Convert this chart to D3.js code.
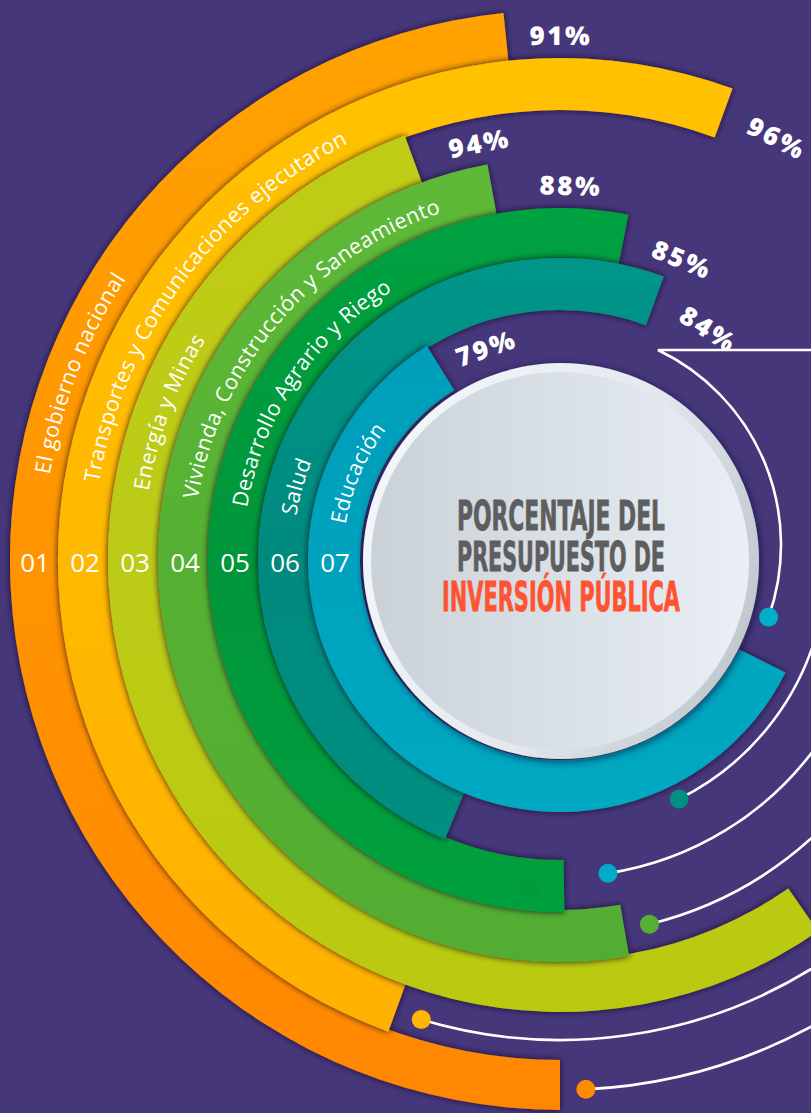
<!DOCTYPE html>
<html><head><meta charset="utf-8">
<script src="https://cdn.jsdelivr.net/npm/d3@7"></script>
<style>html,body{margin:0;padding:0;background:#46377b;overflow:hidden}</style>
</head><body>
<svg id="chart" width="811" height="1113"></svg>
<script>
// ---------- data ----------
const codes = ["01","02","03","04","05","06","07"];
const sectors = [
  "El gobierno nacional",
  "Transportes y Comunicaciones ejecutaron",
  "Energía y Minas",
  "Vivienda, Construcción y Saneamiento",
  "Desarrollo Agrario y Riego",
  "Salud",
  "Educación"
];
const execution = [91, 96, 94, 88, 85, 84, 79];
// drawn sweep of each band, degrees clockwise from 12 o'clock
const arcStartDeg = [180, 200, 145.2, 170.1, 179.3, 202.4, 116.5];
const arcEndDeg   = [354.1, 380.1, 339.9, 349.6, 371.2, 380.1, 328.1];
const titleLines = ["PORCENTAJE DEL", "PRESUPUESTO DE", "INVERSIÓN PÚBLICA"];

// ---------- layout / style ----------
const W = 811, H = 1113, cx = 560, cy = 560;
const ringStops = [
  ["#ffa300","#ff9400","#ff8700"],
  ["#ffc300","#ffb800","#ffb000"],
  ["#c0cd12","#bccb12","#b9c911"],
  ["#62bd3c","#56b132","#50ab30"],
  ["#00a843","#00963a","#00a540"],
  ["#00a094","#008a7e","#009383"],
  ["#0098b6","#00a2bd","#00b0c8"]
];
const labelGap = [55, 59, 68, 79, 62, 61, 50];
// decorative connector lines (radius, dot angle, dot colour)
const connR = [267, 317, 375, 480, 530];
const connDotDeg = [153.5, 171.3, 166.2, 196.8, 177.2];
const connColor = ["#00907f", "#00acc7", "#56b032", "#ffb600", "#ff8c00"];

const rad = d3.scaleLinear().domain([0, 360]).range([0, 2 * Math.PI]);
const ring = d3.scaleBand().domain(codes).range([550, 200]); // inner radius of each band
const bw = ring.bandwidth();

const svg = d3.select("#chart");
const defs = svg.append("defs");

// shadows
const sh = defs.append("filter").attr("id","ringShadow").attr("x","-20%").attr("y","-20%").attr("width","140%").attr("height","140%");
sh.append("feDropShadow").attr("dx",0).attr("dy",0).attr("stdDeviation",3).attr("flood-color","#140a20").attr("flood-opacity",0.9);
const sh2 = defs.append("filter").attr("id","discShadow").attr("x","-20%").attr("y","-20%").attr("width","140%").attr("height","140%");
sh2.append("feDropShadow").attr("dx",1).attr("dy",2).attr("stdDeviation",4).attr("flood-color","#140a30").attr("flood-opacity",0.7);

ringStops.forEach((stops, i) => {
  const g = defs.append("linearGradient").attr("id","rg"+i)
    .attr("gradientUnits","userSpaceOnUse").attr("x1",0).attr("y1",-cy).attr("x2",0).attr("y2",H - cy);
  stops.forEach((c, k) => g.append("stop").attr("offset", k / (stops.length - 1)).attr("stop-color", c));
});

svg.append("rect").attr("width",W).attr("height",H).attr("fill","#46377b");

const root = svg.append("g").attr("transform",`translate(${cx},${cy})`);

// ---------- bands ----------
const arcGen = d3.arc();
codes.forEach((c, i) => {
  const r0 = ring(c);
  root.append("path")
    .attr("d", arcGen({innerRadius: r0, outerRadius: r0 + bw + (i === 0 ? 0 : 2),
      startAngle: rad(arcStartDeg[i]), endAngle: rad(arcEndDeg[i])}))
    .attr("fill", `url(#rg${i})`)
    .attr("filter","url(#ringShadow)");
});

// subtle dot on band 05
root.append("circle")
  .attr("cx", (ring("05") + bw / 2 + 5) * Math.sin(rad(185.2)))
  .attr("cy", -(ring("05") + bw / 2 + 5) * Math.cos(rad(185.2)))
  .attr("r", 10).attr("fill","#009b3c");

// ---------- curved sector labels ----------
const labelStart = 279.5;
codes.forEach((c, i) => {
  const r = ring(c) + bw / 2;
  const p = d3.path();
  const a0 = rad(labelStart) - Math.PI / 2, a1 = rad(labelStart + 150) - Math.PI / 2;
  p.moveTo(r * Math.cos(a0), r * Math.sin(a0));
  p.arc(0, 0, r, a0, a1, false);
  defs.append("path").attr("id","lp"+i).attr("d", p.toString());
  root.append("text")
    .attr("fill","#fff").attr("font-family","'Open Sans', 'Noto Sans', sans-serif")
    .attr("font-size", 21.5).attr("letter-spacing", 0.6).attr("dy","0.36em")
    .append("textPath").attr("href","#lp"+i).attr("startOffset",0)
    .text(sectors[i]);
});

// ---------- code numbers ----------
codes.forEach((c, i) => {
  const r = ring(c) + bw / 2;
  root.append("text")
    .attr("x", r * Math.sin(rad(270))).attr("y", 2)
    .attr("text-anchor","middle").attr("dominant-baseline","central")
    .attr("fill","#fff").attr("font-family","'Open Sans', sans-serif")
    .attr("font-size", 26)
    .text(c);
});

// ---------- percentage labels ----------
codes.forEach((c, i) => {
  const r = ring(c) + bw / 2;
  const a = arcEndDeg[i] + (labelGap[i] / r) * 180 / Math.PI;
  const x = r * Math.sin(rad(a)), y = -r * Math.cos(rad(a));
  root.append("text")
    .attr("transform", `translate(${x},${y}) rotate(${a % 360})`)
    .attr("text-anchor","middle").attr("dominant-baseline","central")
    .attr("fill","#fff").attr("font-family","'Open Sans', sans-serif")
    .attr("font-weight", 800).attr("font-size", 26).attr("letter-spacing", 2.5)
    .text(execution[i] + "%");
});

// ---------- connector lines ----------
const lineG = svg.append("g").attr("fill","none").attr("stroke","#fff").attr("stroke-width",2.6);
{
  const ox = 565, oy = 545, r = 216, aS = 25.5, aE = 109.5;
  const sx = ox + r * Math.sin(rad(aS)), sy = oy - r * Math.cos(rad(aS));
  const p = d3.path();
  p.moveTo(W + 5, sy); p.lineTo(sx, sy);
  p.arc(ox, oy, r, rad(aS) - Math.PI / 2, rad(aE) - Math.PI / 2, false);
  lineG.append("path").attr("d", p.toString());
  svg.append("circle").attr("cx", ox + r * Math.sin(rad(aE))).attr("cy", oy - r * Math.cos(rad(aE)))
    .attr("r", 9.5).attr("fill","#00afc6");
}
connR.forEach((r, i) => {
  const p = d3.path();
  const exitDeg = 180 - Math.asin(Math.min(1, (W + 6 - cx) / r)) * 180 / Math.PI;
  const a0 = rad(connDotDeg[i]) - Math.PI / 2, a1 = rad(exitDeg) - Math.PI / 2;
  p.moveTo(cx + r * Math.cos(a0), cy + r * Math.sin(a0));
  p.arc(cx, cy, r, a0, a1, true);
  lineG.append("path").attr("d", p.toString());
  svg.append("circle").attr("cx", cx + r * Math.cos(a0)).attr("cy", cy + r * Math.sin(a0))
    .attr("r", 9.5).attr("fill", connColor[i]);
});

// ---------- centre disc ----------
const dg1 = defs.append("linearGradient").attr("id","rim").attr("x1","0").attr("y1","0.3").attr("x2","1").attr("y2","0.7");
dg1.append("stop").attr("offset",0).attr("stop-color","#f2f7fb");
dg1.append("stop").attr("offset",0.55).attr("stop-color","#e3e9ee");
dg1.append("stop").attr("offset",1).attr("stop-color","#bfc7cc");
const dg2 = defs.append("linearGradient").attr("id","disc").attr("x1","0").attr("y1","0.5").attr("x2","1").attr("y2","0.5");
dg2.append("stop").attr("offset",0).attr("stop-color","#cad2d8");
dg2.append("stop").attr("offset",1).attr("stop-color","#e9eff4");

const dcx = 561, dcy = 561;
svg.append("circle").attr("cx",dcx).attr("cy",dcy).attr("r",198).attr("fill","url(#rim)").attr("filter","url(#discShadow)");
svg.append("circle").attr("cx",dcx-1).attr("cy",dcy).attr("r",189).attr("fill","url(#disc)");

const titleY = [530, 571, 611];
const titleW = [208, 208, 238];
const titleC = ["#5e5e5e", "#5e5e5e", "#ff5433"];
titleLines.forEach((t, i) => {
  svg.append("text")
    .attr("x", dcx).attr("y", titleY[i]).attr("text-anchor","middle")
    .attr("font-family","'Liberation Sans Narrow','DejaVu Sans Condensed','Roboto',sans-serif")
    .attr("font-weight",700).attr("font-size",41)
    .attr("textLength", titleW[i]).attr("lengthAdjust","spacingAndGlyphs")
    .attr("fill", titleC[i]).attr("stroke", titleC[i]).attr("stroke-width", 0.8)
    .text(t);
});
</script>
</body></html>
